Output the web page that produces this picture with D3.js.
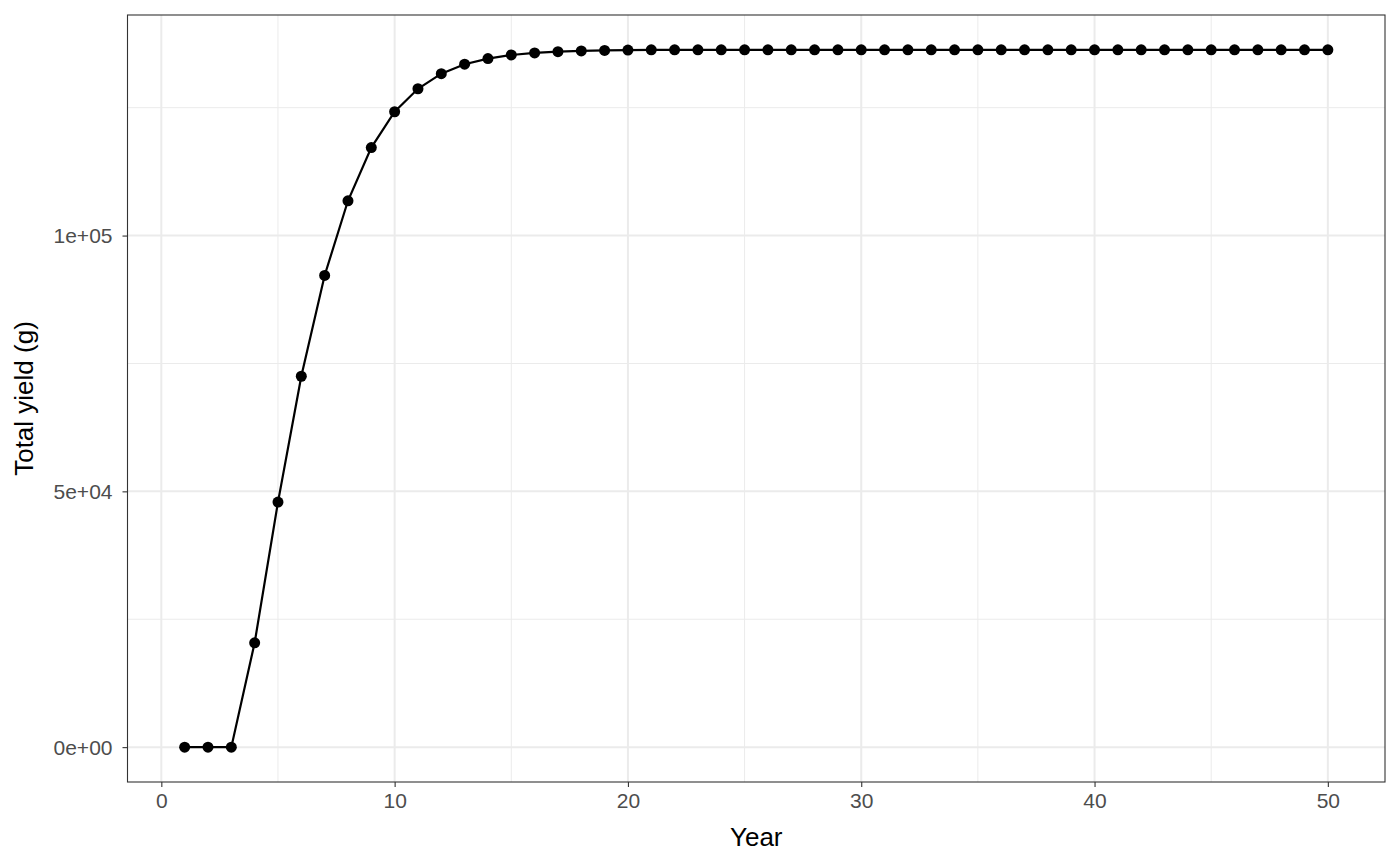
<!DOCTYPE html>
<html><head><meta charset="utf-8">
<script src="https://cdn.jsdelivr.net/npm/d3@7"></script>
<style>body{margin:0;background:#fff}svg{display:block;font-family:"Liberation Sans",Arial,sans-serif}</style>
</head><body><svg id="c" width="1400" height="866"></svg>
<script>
const years = d3.range(1, 51);
const yieldValues = [0,0,0,20400,47900,72500,92200,106800,117200,124200,128700,131650,133500,134600,135300,135700,135950,136100,136200,136250,
136300,136300,136300,136300,136300,136300,136300,136300,136300,136300,136300,136300,136300,136300,136300,136300,136300,136300,136300,136300,
136300,136300,136300,136300,136300,136300,136300,136300,136300,136300];
const xTicks = [0,10,20,30,40,50];
const xMinor = [5,15,25,35,45];
const yTicks = [0,50000,100000];
const yMinor = [25000,75000,125000];
const yLabels = ["0e+00","5e+04","1e+05"];

const data = years.map((y,i)=>({x:y,y:yieldValues[i]}));
const L=127.5,R=1385,T=15,B=782;
const xe=(50-1)*0.05, ye=136300*0.05;
const x=d3.scaleLinear().domain([1-xe,50+xe]).range([L,R]);
const y=d3.scaleLinear().domain([0-ye,136300+ye]).range([B,T]);
const svg=d3.select("#c");
const g=svg.append("g");
g.selectAll(".xm").data(xMinor).join("line").attr("x1",d=>x(d)).attr("x2",d=>x(d)).attr("y1",T).attr("y2",B).attr("stroke","#EBEBEB").attr("stroke-width",1);
g.selectAll(".ym").data(yMinor).join("line").attr("y1",d=>y(d)).attr("y2",d=>y(d)).attr("x1",L).attr("x2",R).attr("stroke","#EBEBEB").attr("stroke-width",1);
g.selectAll(".xM").data(xTicks).join("line").attr("x1",d=>x(d)).attr("x2",d=>x(d)).attr("y1",T).attr("y2",B).attr("stroke","#EBEBEB").attr("stroke-width",2);
g.selectAll(".yM").data(yTicks).join("line").attr("y1",d=>y(d)).attr("y2",d=>y(d)).attr("x1",L).attr("x2",R).attr("stroke","#EBEBEB").attr("stroke-width",2);

g.append("path").datum(data).attr("fill","none").attr("stroke","#000").attr("stroke-width",2.2)
 .attr("d",d3.line().x(d=>x(d.x)).y(d=>y(d.y)));
g.selectAll("circle").data(data).join("circle").attr("cx",d=>x(d.x)).attr("cy",d=>y(d.y)).attr("r",5.5).attr("fill","#000");

g.append("rect").attr("x",L).attr("y",T).attr("width",R-L).attr("height",B-T).attr("fill","none").attr("stroke","#333").attr("stroke-width",1.1);

const xa=svg.append("g").attr("transform",`translate(0,${B})`)
 .call(d3.axisBottom(x).tickValues(xTicks).tickSize(5).tickPadding(6).tickFormat(d3.format("d")));
const ya=svg.append("g").attr("transform",`translate(${L},0)`)
 .call(d3.axisLeft(y).tickValues(yTicks).tickSize(5).tickPadding(10).tickFormat((d,i)=>yLabels[i]));
[xa,ya].forEach(a=>{a.select(".domain").remove();a.selectAll(".tick line").attr("stroke","#333").attr("stroke-width",1.1);
 a.selectAll("text").attr("fill","#4D4D4D").style("font-size","21px").style("font-family","'Liberation Sans',Arial,sans-serif");});
ya.selectAll("text").attr("dy","0.35em");
svg.append("text").attr("x",(L+R)/2).attr("y",846).attr("text-anchor","middle").style("font-size","26px").attr("fill","#000").text("Year");
svg.append("text").attr("transform",`translate(33,${(T+B)/2}) rotate(-90)`).attr("text-anchor","middle").style("font-size","26px").attr("fill","#000").text("Total yield (g)");
</script></body></html>
